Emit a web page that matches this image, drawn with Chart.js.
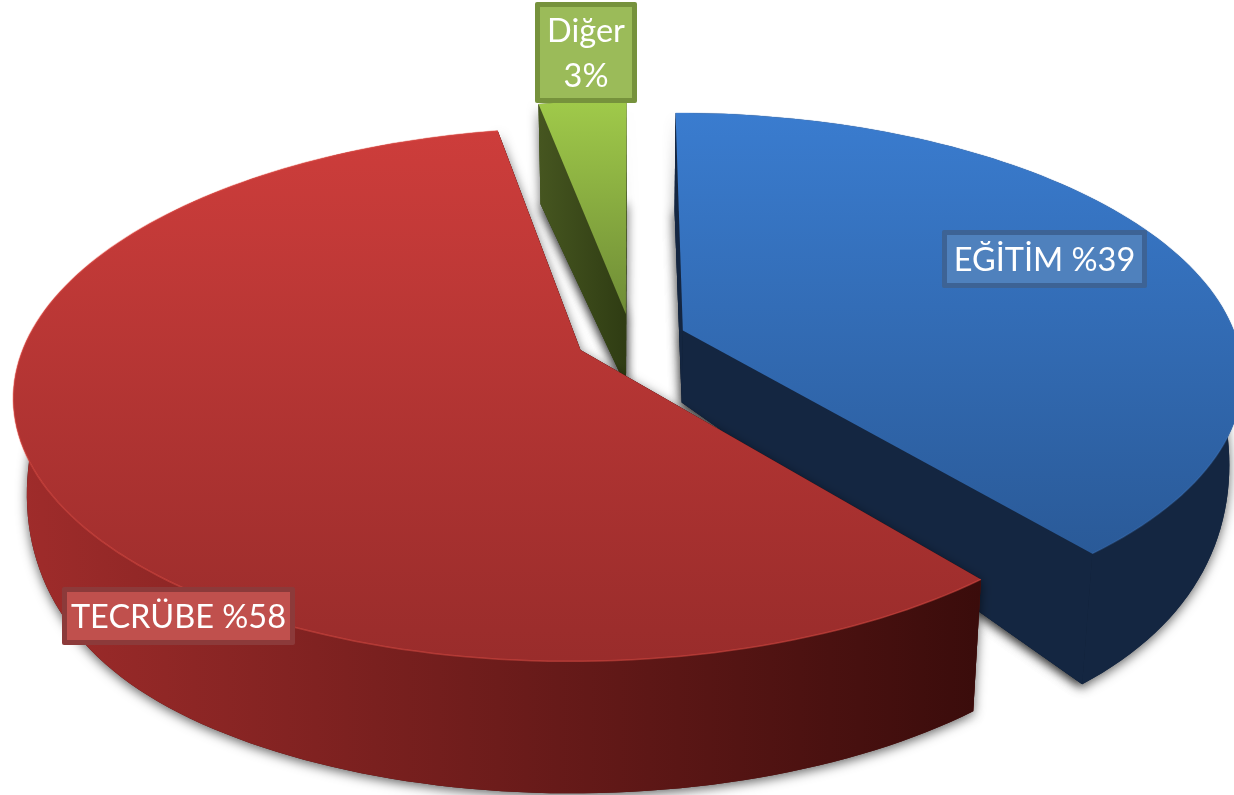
<!DOCTYPE html>
<html>
<head>
<meta charset="utf-8">
<title>Pie</title>
<style>
  html, body { margin: 0; padding: 0; background: #fff; overflow: hidden; }
  canvas { display: block; }
</style>
<script src="https://cdn.jsdelivr.net/npm/chart.js@4"></script>
</head>
<body>
<canvas id="myChart" width="1234" height="795"></canvas>
<script>
const categories = ['EĞİTİM', 'TECRÜBE', 'Diğer'];
const values = [39, 58, 3];
const valueLabels = [['EĞİTİM %39'], ['TECRÜBE %58'], ['Diğer', '3%']];

// look of each slice: top gradient, side gradient, label box
const topColors = [['#3a7ccf', '#2a5a98'], ['#cd3d3b', '#992c2b'], ['#a0ca4a', '#6f8c36']];
const wallColors = [['#142641', '#142641'], ['#a02c2b', '#3a0c0b'], ['#465620', '#2f3c13']];
const faceColors = ['#142641', '#4a1210', '#3c4b1a'];
const rimColors = ['rgba(80,140,215,.25)', 'rgba(235,85,75,.45)', 'rgba(170,210,90,0)'];
const boxes = [
    { x: 942, y: 230, w: 205, h: 58, fill: '#4f81bd', line: '#3d6395' },
    { x: 62, y: 587, w: 233, h: 58, fill: '#c0504d', line: '#8c3a3a' },
    { x: 535, y: 2, w: 102, h: 101, fill: '#9bbb59', line: '#76923c' }
];

// perspective of the disk
const cx = 631, cy = 339, A = 554, B = 256, k = 0.165, explode = 0.1;

function project(u, v) {
    const w = 1 / (1 - k * v);
    return { x: cx + A * u * w, y: cy + B * v * w };
}
function depth(v) {
    if (v < 0) return 72 + 24 * v * v;
    return 72 + 60 * Math.sin(Math.min(v / 0.85, 1) * Math.PI / 2);
}
function lower(u, v) {
    const p = project(u, v);
    return { x: p.x - (p.x - cx) * 0.022, y: p.y + depth(v) };
}

function arcPoints(arc) {
    const mid = (arc.startAngle + arc.endAngle) / 2;
    const ox = Math.cos(mid) * explode, oy = Math.sin(mid) * explode;
    const pts = [];
    const steps = Math.max(4, Math.round((arc.endAngle - arc.startAngle) * 40));
    for (let i = 0; i <= steps; i++) {
        const a = arc.startAngle + (arc.endAngle - arc.startAngle) * i / steps;
        pts.push({ u: ox + Math.cos(a), v: oy + Math.sin(a) });
    }
    return { apex: { u: ox, v: oy }, pts: pts };
}

function path(ctx, list) {
    ctx.beginPath();
    list.forEach((p, i) => i ? ctx.lineTo(p.x, p.y) : ctx.moveTo(p.x, p.y));
    ctx.closePath();
}

function drawSlice(ctx, arc, i) {
    const s = arcPoints(arc);
    const top = s.pts.map(p => project(p.u, p.v));
    const bottom = s.pts.map(p => lower(p.u, p.v));
    const apexTop = project(s.apex.u, s.apex.v);
    const apexLow = lower(s.apex.u, s.apex.v);
    const outer = top.concat(bottom.slice().reverse());

    const xs = outer.map(p => p.x), ys = top.map(p => p.y).concat(apexTop.y);
    const wall = ctx.createLinearGradient(Math.min(...xs), 0, Math.max(...xs), 0);
    wall.addColorStop(0, wallColors[i][0]);
    wall.addColorStop(1, wallColors[i][1]);

    // soft shadow round the side walls
    ctx.save();
    ctx.shadowColor = 'rgba(0,0,0,.6)';
    ctx.shadowBlur = 11;
    ctx.shadowOffsetY = 3;
    ctx.fillStyle = faceColors[i];
    path(ctx, [apexLow].concat(bottom));
    ctx.fill();
    path(ctx, [apexTop, top[0], bottom[0], apexLow]);
    ctx.fill();
    path(ctx, [apexTop, top[top.length - 1], bottom[bottom.length - 1], apexLow]);
    ctx.fill();
    ctx.restore();

    ctx.fillStyle = i === 2 ? wall : faceColors[i];
    path(ctx, [apexTop, top[0], bottom[0], apexLow]);
    ctx.fill();
    path(ctx, [apexTop, top[top.length - 1], bottom[bottom.length - 1], apexLow]);
    ctx.fill();

    ctx.fillStyle = wall;
    path(ctx, outer);
    ctx.fill();

    const grad = ctx.createLinearGradient(0, Math.min(...ys), 0, Math.max(...ys));
    grad.addColorStop(0, topColors[i][0]);
    grad.addColorStop(1, topColors[i][1]);
    ctx.fillStyle = grad;
    path(ctx, [apexTop].concat(top));
    ctx.fill();

    ctx.strokeStyle = rimColors[i];
    ctx.lineWidth = 1.5;
    ctx.beginPath();
    top.forEach((p, n) => n ? ctx.lineTo(p.x, p.y) : ctx.moveTo(p.x, p.y));
    ctx.stroke();
}

const pie3d = {
    id: 'pie3d',
    beforeDatasetDraw(chart) {
        const arcs = chart.getDatasetMeta(0).data;
        [2, 0, 1].forEach(i => drawSlice(chart.ctx, arcs[i], i));
        return false;
    },
    afterDraw(chart) {
        const ctx = chart.ctx;
        ctx.textAlign = 'center';
        ctx.textBaseline = 'alphabetic';
        ctx.font = '32.5px Lato, "Open Sans", sans-serif';
        boxes.forEach((b, i) => {
            ctx.fillStyle = b.line;
            ctx.beginPath();
            ctx.roundRect(b.x, b.y, b.w, b.h, 2);
            ctx.fill();
            ctx.fillStyle = b.fill;
            ctx.fillRect(b.x + 5, b.y + 5, b.w - 10, b.h - 10);
            ctx.fillStyle = '#fff';
            const lines = valueLabels[i];
            const first = b.y + (lines.length > 1 ? 40 : 41);
            lines.forEach((t, n) => ctx.fillText(t, b.x + b.w / 2, first + n * 45));
        });
    }
};

const ctx = document.getElementById('myChart');

new Chart(ctx, {
    type: 'pie',
    data: {
        labels: categories,
        datasets: [
            {
                data: values,
                borderWidth: 0
            }
        ]
    },
    options: {
        responsive: false,
        animation: false,
        plugins: {
            legend: { display: false },
            tooltip: { enabled: false }
        }
    },
    plugins: [pie3d]
});
</script>
</body>
</html>
